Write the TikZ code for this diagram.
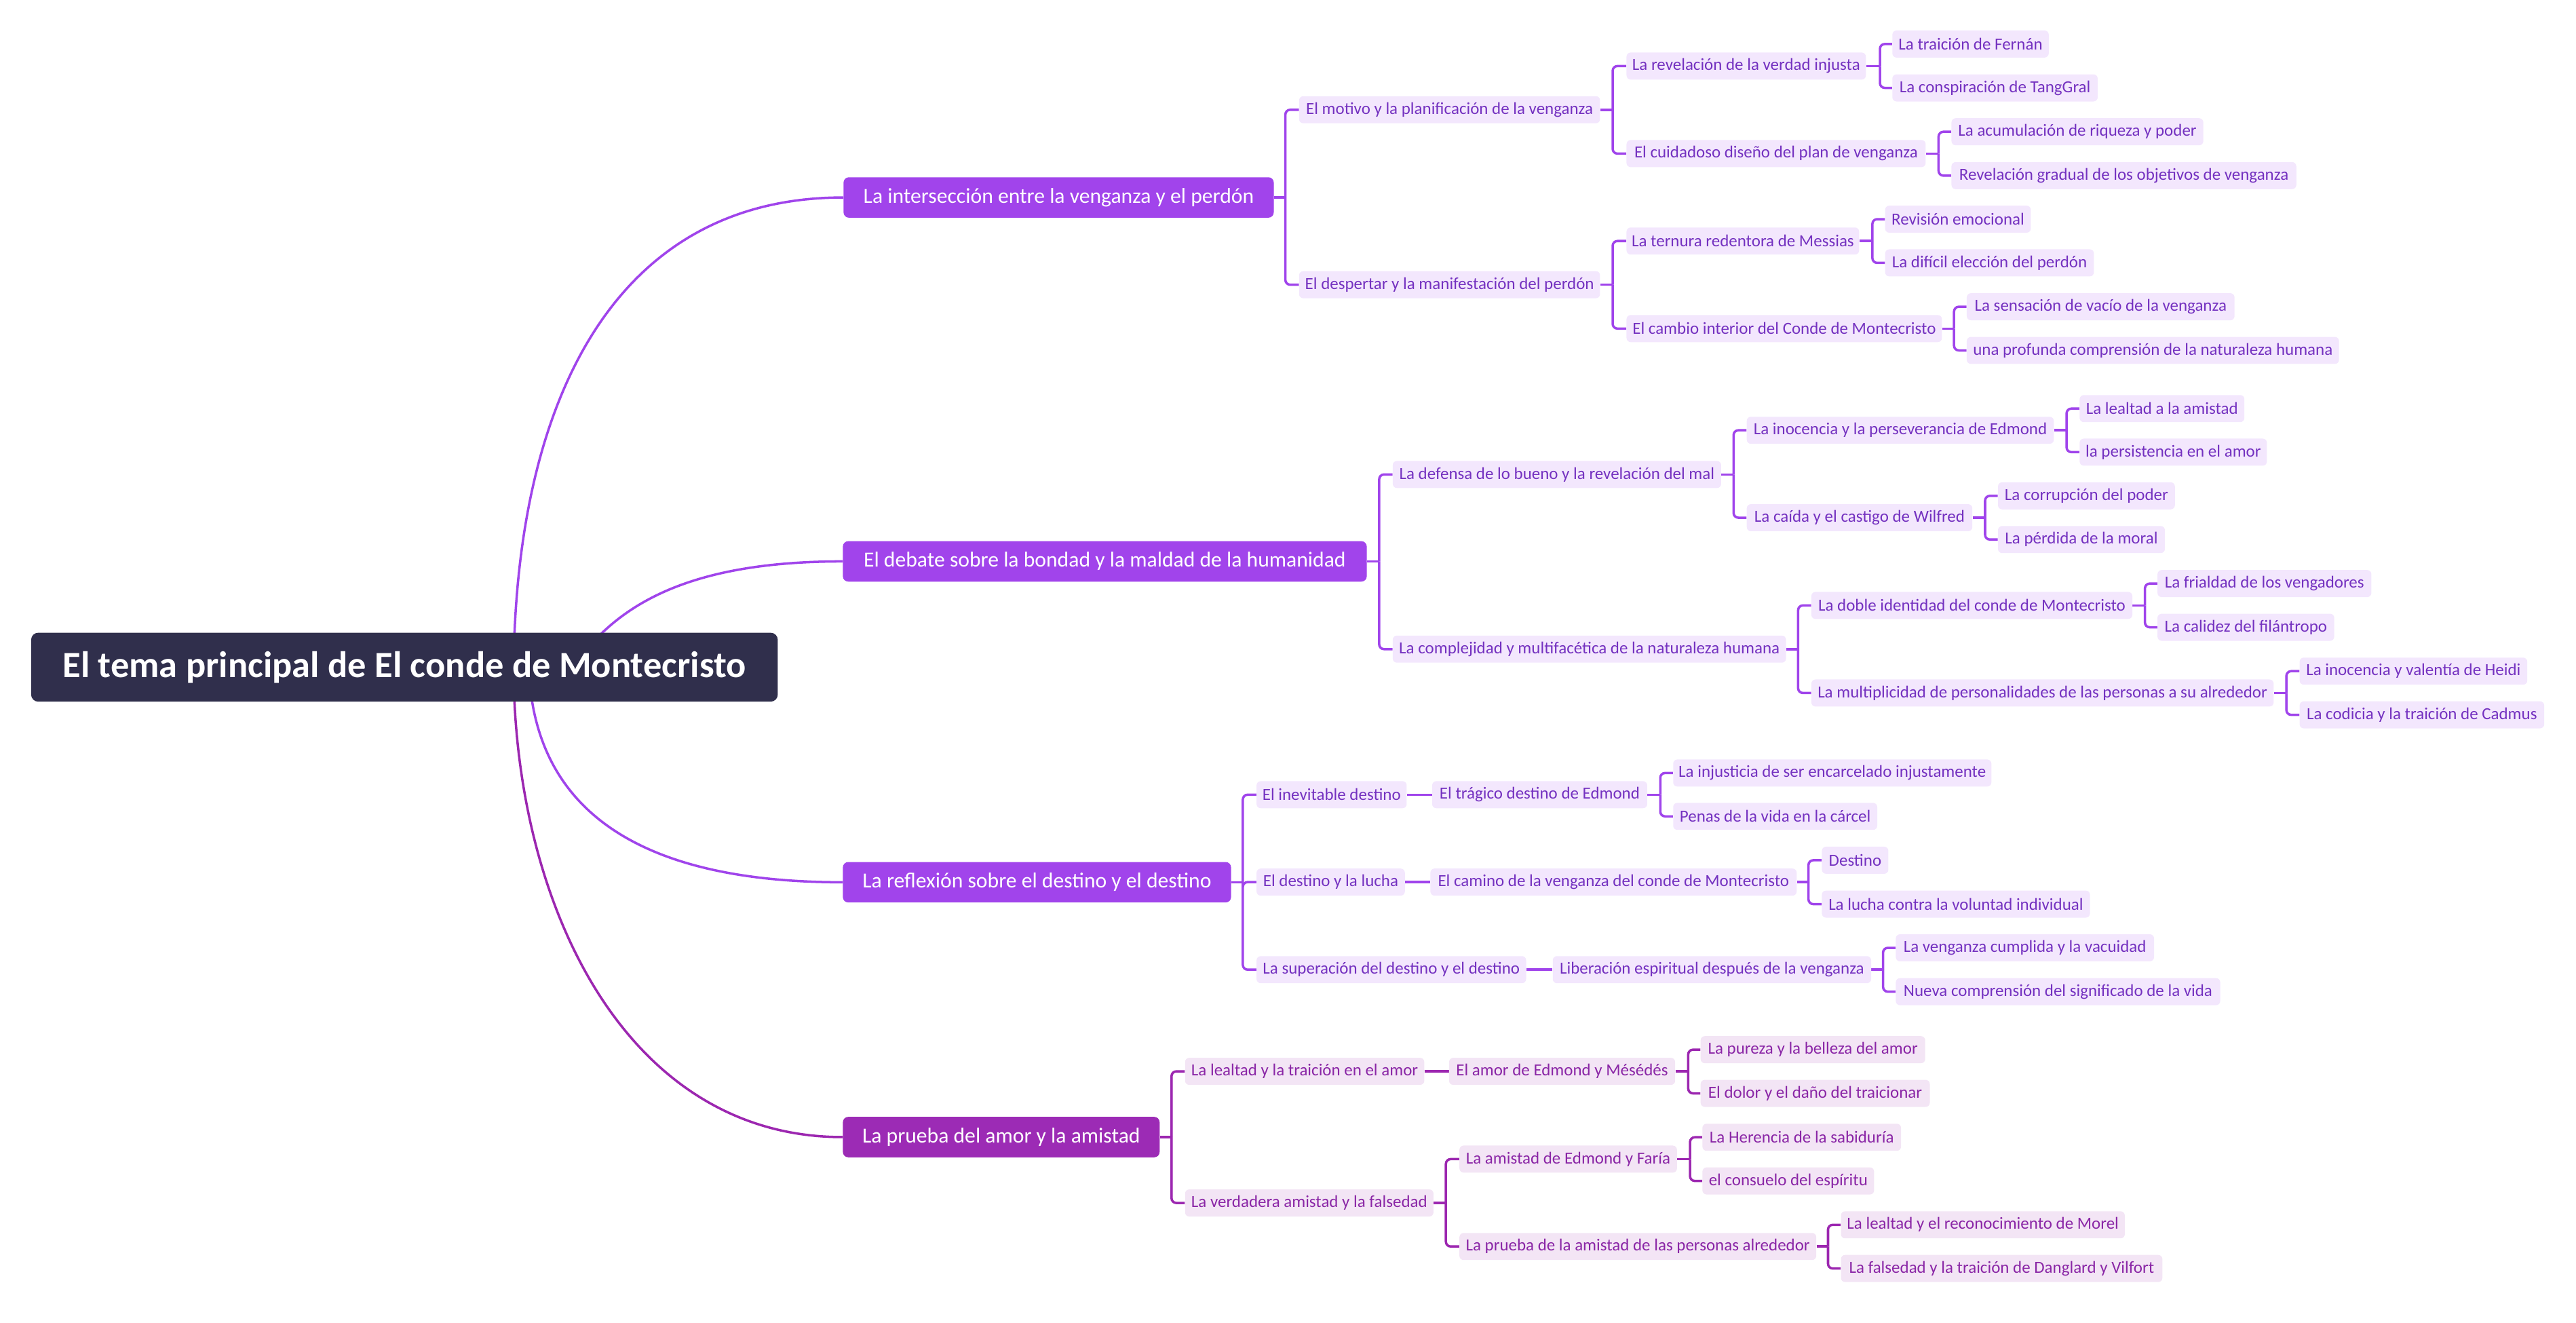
\documentclass[tikz,border=0pt]{standalone}
\usepackage{fontspec}
\setmainfont{Carlito}
\usetikzlibrary{backgrounds}
\definecolor{rootc}{HTML}{302F4C}
\definecolor{lvone}{HTML}{A144EB}
\definecolor{lvoned}{HTML}{9C2BB5}
\definecolor{lnc}{HTML}{A044EB}
\definecolor{lncd}{HTML}{9C27B0}
\definecolor{boxc}{HTML}{F3E7FD}
\definecolor{boxd}{HTML}{F3E5F5}
\definecolor{txc}{HTML}{7431C0}
\definecolor{txd}{HTML}{8A26A6}
\newcommand\pxu{1.3771pt}
% node: name, left, right, cy, style, text
\newcommand\nd[6]{\node[#5, anchor=west, minimum width={(#3-#2)*\pxu}] (#1) at (#2,#4) {#6};}
% bracket: parent, spine x, parent cy, style, children
\newcommand\br[5]{%
  \coordinate (#1j) at (#2,#3);
  \draw[#4] (#1.east) -- (#1j);
  \foreach \ch in {#5} {\draw[#4,rounded corners=4pt] (#1j) |- (\ch.west);}
}
\begin{document}
\begin{tikzpicture}[x=0.0484cm,y=-0.0484cm,
  rootbox/.style={fill=rootc, text=white, rounded corners=6pt, font=\fontsize{31}{36}\selectfont\bfseries, inner sep=0pt, minimum height=57.8pt},
  topic/.style={fill=lvone, text=white, rounded corners=4.5pt, font=\fontsize{18}{22}\selectfont, inner sep=0pt, minimum height=33.9pt},
  topicd/.style={topic, fill=lvoned},
  sub/.style={fill=boxc, text=txc, rounded corners=3.5pt, font=\fontsize{14.2}{16}\selectfont, inner sep=0pt, minimum height=22.7pt},
  subd/.style={sub, fill=boxd, text=txd},
  conn/.style={draw=lnc, line width=2pt},
  connd/.style={draw=lncd, line width=2pt}]
\useasboundingbox (0,0) rectangle (1568,805);

% root
\nd{root}{18.8}{473.3}{406.1}{rootbox}{El tema principal de El conde de Montecristo}

% level 1
\nd{A}{513.3}{775.2}{120.2}{topic}{La intersección entre la venganza y el perdón}
\nd{B}{512.9}{831.8}{341.7}{topic}{El debate sobre la bondad y la maldad de la humanidad}
\nd{C}{512.9}{749.2}{537.0}{topic}{La reflexión sobre el destino y el destino}
\nd{D}{512.9}{705.7}{692.1}{topicd}{La prueba del amor y la amistad}

% branch A
\nd{A1}{790.6}{973.8}{66.8}{sub}{El motivo y la planificación de la venganza}
\nd{A2}{790.6}{973.8}{173.3}{sub}{El despertar y la manifestación del perdón}
\nd{A1a}{989.9}{1135.6}{40.2}{sub}{La revelación de la verdad injusta}
\nd{A1a1}{1151.7}{1246.9}{26.8}{sub}{La traición de Fernán}
\nd{A1a2}{1151.7}{1276.7}{53.5}{sub}{La conspiración de TangGral}
\nd{A1b}{989.9}{1172}{93.5}{sub}{El cuidadoso diseño del plan de venganza}
\nd{A1b1}{1187.7}{1341}{80.2}{sub}{La acumulación de riqueza y poder}
\nd{A1b2}{1187.7}{1397.6}{106.9}{sub}{Revelación gradual de los objetivos de venganza}
\nd{A2a}{989.9}{1131.5}{146.7}{sub}{La ternura redentora de Messias}
\nd{A2a1}{1147.3}{1236}{133.4}{sub}{Revisión emocional}
\nd{A2a2}{1147.3}{1274.4}{160}{sub}{La difícil elección del perdón}
\nd{A2b}{989.9}{1181.9}{200}{sub}{El cambio interior del Conde de Montecristo}
\nd{A2b1}{1197}{1360}{186.7}{sub}{La sensación de vacío de la venganza}
\nd{A2b2}{1197}{1423.6}{213.3}{sub}{una profunda comprensión de la naturaleza humana}

% branch B
\nd{B1}{847.6}{1047.5}{288.8}{sub}{La defensa de lo bueno y la revelación del mal}
\nd{B2}{847.6}{1087}{395.1}{sub}{La complejidad y multifacética de la naturaleza humana}
\nd{B1a}{1063.1}{1250}{261.9}{sub}{La inocencia y la perseverancia de Edmond}
\nd{B1a1}{1265.7}{1366}{248.7}{sub}{La lealtad a la amistad}
\nd{B1a2}{1265.7}{1379.7}{275.2}{sub}{la persistencia en el amor}
\nd{B1b}{1063.1}{1200.4}{315.1}{sub}{La caída y el castigo de Wilfred}
\nd{B1b1}{1216}{1323.7}{301.8}{sub}{La corrupción del poder}
\nd{B1b2}{1216}{1317.6}{328.4}{sub}{La pérdida de la moral}
\nd{B2a}{1102.4}{1297.8}{368.5}{sub}{La doble identidad del conde de Montecristo}
\nd{B2a1}{1313.1}{1443.3}{355.2}{sub}{La frialdad de los vengadores}
\nd{B2a2}{1313.1}{1420.7}{381.8}{sub}{La calidez del filántropo}
\nd{B2b}{1102.4}{1383.8}{421.8}{sub}{La multiplicidad de personalidades de las personas a su alrededor}
\nd{B2b1}{1399.6}{1538.2}{408.5}{sub}{La inocencia y valentía de Heidi}
\nd{B2b2}{1399.6}{1548.5}{435.1}{sub}{La codicia y la traición de Cadmus}

% branch C
\nd{C1}{764.7}{856.1}{483.7}{sub}{El inevitable destino}
\nd{C1a}{871.6}{1002.5}{483.7}{sub}{El trágico destino de Edmond}
\nd{C1a1}{1018.3}{1212}{470.5}{sub}{La injusticia de ser encarcelado injustamente}
\nd{C1a2}{1018.3}{1142.5}{496.9}{sub}{Penas de la vida en la cárcel}
\nd{C2}{764.7}{855}{536.9}{sub}{El destino y la lucha}
\nd{C2a}{870.5}{1093.5}{536.9}{sub}{El camino de la venganza del conde de Montecristo}
\nd{C2a1}{1108.8}{1149.3}{523.6}{sub}{Destino}
\nd{C2a2}{1108.8}{1272}{550.3}{sub}{La lucha contra la voluntad individual}
\nd{C3}{764.7}{928.8}{590.2}{sub}{La superación del destino y el destino}
\nd{C3a}{945}{1138.8}{590.2}{sub}{Liberación espiritual después de la venganza}
\nd{C3a1}{1153.8}{1311}{576.9}{sub}{La venganza cumplida y la vacuidad}
\nd{C3a2}{1153.8}{1351.3}{603.6}{sub}{Nueva comprensión del significado de la vida}

% branch D
\nd{D1}{721.2}{866.8}{652.1}{subd}{La lealtad y la traición en el amor}
\nd{D1a}{881.9}{1019.5}{652.1}{subd}{El amor de Edmond y Mésédés}
\nd{D1a1}{1035}{1171.7}{638.9}{subd}{La pureza y la belleza del amor}
\nd{D1a2}{1035}{1174.5}{665.5}{subd}{El dolor y el daño del traicionar}
\nd{D2}{721.2}{872.4}{732.2}{subd}{La verdadera amistad y la falsedad}
\nd{D2a}{888.2}{1020.6}{705.5}{subd}{La amistad de Edmond y Faría}
\nd{D2a1}{1036.1}{1157}{692.2}{subd}{La Herencia de la sabiduría}
\nd{D2a2}{1036.1}{1140.6}{718.8}{subd}{el consuelo del espíritu}
\nd{D2b}{888.2}{1105.4}{758.7}{subd}{La prueba de la amistad de las personas alrededor}
\nd{D2b1}{1120.4}{1293.2}{745.5}{subd}{La lealtad y el reconocimiento de Morel}
\nd{D2b2}{1120.4}{1316.1}{772.1}{subd}{La falsedad y la traición de Danglard y Vilfort}

\begin{pgfonlayer}{background}
  % root curves
  \coordinate (rA) at (312.6,413);
  \coordinate (rB) at (346.9,408.8);
  \coordinate (rC) at (322,408.8);
  \coordinate (rD) at (312.6,404.7);
  \draw[conn] (rA) .. controls (312.6,247.8) and (371.7,120.2) .. (A.west);
  \draw[conn] (rB) .. controls (371.7,371.7) and (413,341.7) .. (B.west);
  \draw[conn] (rC) .. controls (326.2,495.5) and (392.3,537) .. (C.west);
  \draw[connd] (rD) .. controls (312.6,549.2) and (379.9,692.1) .. (D.west);
  % A
  \br{A}{782.4}{120.2}{conn}{A1,A2}
  \br{A1}{981.6}{66.8}{conn}{A1a,A1b}
  \br{A2}{981.6}{173.3}{conn}{A2a,A2b}
  \br{A1a}{1144.3}{40.2}{conn}{A1a1,A1a2}
  \br{A1b}{1180}{93.5}{conn}{A1b1,A1b2}
  \br{A2a}{1139.7}{146.7}{conn}{A2a1,A2a2}
  \br{A2b}{1189.4}{200}{conn}{A2b1,A2b2}
  % B
  \br{B}{839.5}{341.7}{conn}{B1,B2}
  \br{B1}{1055.2}{288.8}{conn}{B1a,B1b}
  \br{B2}{1094.5}{395.1}{conn}{B2a,B2b}
  \br{B1a}{1257.9}{261.9}{conn}{B1a1,B1a2}
  \br{B1b}{1208.3}{315.1}{conn}{B1b1,B1b2}
  \br{B2a}{1305.6}{368.5}{conn}{B2a1,B2a2}
  \br{B2b}{1391.7}{421.8}{conn}{B2b1,B2b2}
  % C
  \br{C}{756.5}{537.0}{conn}{C1,C2,C3}
  \draw[conn] (C1.east) -- (C1a.west);
  \draw[conn] (C2.east) -- (C2a.west);
  \draw[conn] (C3.east) -- (C3a.west);
  \br{C1a}{1010.6}{483.7}{conn}{C1a1,C1a2}
  \br{C2a}{1100.8}{536.9}{conn}{C2a1,C2a2}
  \br{C3a}{1146.2}{590.2}{conn}{C3a1,C3a2}
  % D
  \br{D}{713.1}{692.1}{connd}{D1,D2}
  \draw[connd] (D1.east) -- (D1a.west);
  \br{D1a}{1027.6}{652.1}{connd}{D1a1,D1a2}
  \br{D2}{880.1}{732.2}{connd}{D2a,D2b}
  \br{D2a}{1028.7}{705.5}{connd}{D2a1,D2a2}
  \br{D2b}{1112.7}{758.7}{connd}{D2b1,D2b2}
\end{pgfonlayer}
\end{tikzpicture}
\end{document}
